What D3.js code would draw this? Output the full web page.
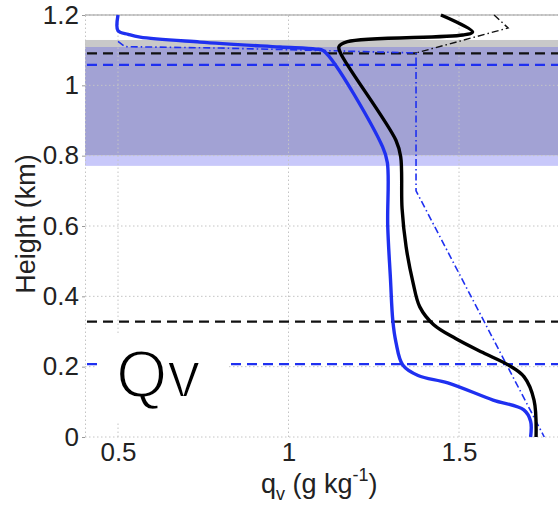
<!DOCTYPE html>
<html>
<head>
<meta charset="utf-8">
<script src="https://cdn.jsdelivr.net/npm/d3@7"></script>
<style>
  body { margin: 0; background: #fff; }
  text { font-family: "Liberation Sans", Arial, sans-serif; }
</style>
</head>
<body>
<div id="chart"></div>
<script>
// ticks
const xTicks = [0.5, 1, 1.5];
const xTickLabels = ["0.5", "1", "1.5"];
const yTicks = [0, 0.2, 0.4, 0.6, 0.8, 1, 1.2];
const yTickLabels = ["0", "0.2", "0.4", "0.6", "0.8", "1", "1.2"];

// shaded layers (km)
const bandLo = [1.109, 0.80, 0.771];
const bandHi = [1.129, 1.109, 0.80];

// horizontal dashed levels (km)
const blackLevels = [1.091, 0.328];
const blueLevels = [1.058, 0.207];

// profiles [qv, height]
const blueSolid = [
  [0.5, 1.2], [0.5, 1.155], [0.53, 1.145], [0.565, 1.137], [0.74, 1.123],
  [0.975, 1.109], [1.08, 1.103], [1.103, 1.098], [1.276, 0.825], [1.29, 0.78],
  [1.291, 0.60], [1.299, 0.45], [1.306, 0.33], [1.315, 0.27], [1.335, 0.205],
  [1.38, 0.175], [1.467, 0.154], [1.60, 0.105], [1.69, 0.077], [1.71, 0.045], [1.71, 0]
];
const blackSolid = [
  [1.447, 1.2], [1.540, 1.152], [1.511, 1.143], [1.173, 1.124], [1.148, 1.110],
  [1.153, 1.091], [1.315, 0.844], [1.329, 0.797], [1.333, 0.65], [1.345, 0.54],
  [1.365, 0.44], [1.385, 0.37], [1.425, 0.32], [1.49, 0.28], [1.57, 0.24],
  [1.644, 0.205], [1.691, 0.171], [1.72, 0.105], [1.726, 0]
];
const blackDashDot = [[1.603, 1.2], [1.644, 1.163], [1.374, 1.092]];
const blueDashDot = [
  [0.5, 1.125], [0.52, 1.11], [0.8, 1.106], [1.1, 1.099], [1.374, 1.092],
  [1.374, 0.70], [1.75, 0]
];

const W = 558, H = 509;
const blue = "#1f30f0";

const svg = d3.select("#chart").append("svg")
  .attr("width", W).attr("height", H);

const x = d3.scaleLinear().domain([0.5, 1.5]).range([118, 459]);
const y = d3.scaleLinear().domain([0, 1.2]).range([437, 15]);
const left = 85, right = W;

// bands
const bandColors = ["#c9c9c9", "#a2a2d4", "#c8c8fa"];
svg.selectAll("rect.band")
  .data(bandLo)
  .enter().append("rect")
  .attr("x", left)
  .attr("width", right - left)
  .attr("y", (d, i) => y(bandHi[i]))
  .attr("height", (d, i) => y(d) - y(bandHi[i]))
  .attr("fill", (d, i) => bandColors[i]);

// grid
const grid = svg.append("g").attr("stroke", "#c4c4c4").attr("stroke-dasharray", "1.5,2.5");
grid.selectAll("line.gx").data(xTicks).enter().append("line")
  .attr("x1", d => x(d)).attr("x2", d => x(d))
  .attr("y1", y(0)).attr("y2", y(1.2));
grid.selectAll("line.gy").data(yTicks).enter().append("line")
  .attr("x1", left).attr("x2", right)
  .attr("y1", d => y(d)).attr("y2", d => y(d));

// top border + left axis
svg.append("line").attr("x1", left).attr("x2", right)
  .attr("y1", y(1.2)).attr("y2", y(1.2)).attr("stroke", "#9a9a9a").attr("stroke-width", 1.2);

const yAxis = d3.axisLeft(y).tickValues(yTicks).tickSize(3).tickPadding(3)
  .tickFormat((d, i) => yTickLabels[i]);
const gy = svg.append("g").attr("transform", `translate(${left},0)`).call(yAxis);
gy.select(".domain").attr("stroke", "#c4c4c4").attr("stroke-dasharray", "1.5,2.5");
gy.selectAll(".tick line").attr("stroke", "#999");
gy.selectAll(".tick text").attr("font-size", 26).attr("fill", "#222")
  .attr("font-family", "Liberation Sans, Arial, sans-serif");

const xAxis = d3.axisBottom(x).tickValues(xTicks).tickSize(0).tickPadding(6)
  .tickFormat((d, i) => xTickLabels[i]);
const gx = svg.append("g").attr("transform", `translate(0,${y(0)})`).call(xAxis);
gx.select(".domain").remove();
gx.selectAll(".tick text").attr("font-size", 26).attr("fill", "#222")
  .attr("font-family", "Liberation Sans, Arial, sans-serif");

// dashed levels
svg.selectAll("line.lvk").data(blackLevels).enter().append("line")
  .attr("x1", left + 2).attr("x2", right)
  .attr("y1", d => y(d)).attr("y2", d => y(d))
  .attr("stroke", "#111").attr("stroke-width", 2.2).attr("stroke-dasharray", "10,6");
svg.selectAll("line.lvb").data(blueLevels).enter().append("line")
  .attr("x1", left + 2).attr("x2", right)
  .attr("y1", d => y(d)).attr("y2", d => y(d))
  .attr("stroke", blue).attr("stroke-width", 2.2).attr("stroke-dasharray", "10,6");

// profiles
const line = d3.line().x(d => x(d[0])).y(d => y(d[1]));
const smooth = d3.line().x(d => x(d[0])).y(d => y(d[1])).curve(d3.curveCatmullRom.alpha(0.5));

svg.append("path").datum(blackDashDot).attr("d", line)
  .attr("fill", "none").attr("stroke", "#111").attr("stroke-width", 1.4)
  .attr("stroke-dasharray", "7,3,1.5,3");
svg.append("path").datum(blueDashDot).attr("d", line)
  .attr("fill", "none").attr("stroke", blue).attr("stroke-width", 1.6)
  .attr("stroke-dasharray", "7,3,1.5,3");
svg.append("path").datum(blackSolid).attr("d", smooth)
  .attr("fill", "none").attr("stroke", "#000").attr("stroke-width", 3.4)
  .attr("stroke-linejoin", "round");
svg.append("path").datum(blueSolid).attr("d", smooth)
  .attr("fill", "none").attr("stroke", blue).attr("stroke-width", 3.4)
  .attr("stroke-linejoin", "round");

// Qv label (white outline thins the glyph strokes)
svg.append("rect").attr("x", 97).attr("y", 333).attr("width", 131).attr("height", 90)
  .attr("fill", "#fff");
svg.append("text").attr("x", 116).attr("y", 397)
  .attr("font-family", "DejaVu Sans, sans-serif")
  .attr("font-size", 66).attr("fill", "#000")
  .attr("stroke", "#fff").attr("stroke-width", 2).attr("paint-order", "fill")
  .text("Qv");

// axis titles
svg.append("text")
  .attr("transform", "translate(35,224) rotate(-90)")
  .attr("text-anchor", "middle").attr("font-size", 27).attr("fill", "#222")
  .text("Height (km)");

const xt = svg.append("text").attr("x", 261).attr("y", 493)
  .attr("font-size", 27).attr("fill", "#222");
xt.append("tspan").text("q");
xt.append("tspan").attr("font-size", 18).attr("dy", 7).text("v");
xt.append("tspan").attr("dy", -7).text(" (g kg");
xt.append("tspan").attr("font-size", 18).attr("dy", -12).text("-1");
xt.append("tspan").attr("dy", 12).text(")");
</script>
</body>
</html>
